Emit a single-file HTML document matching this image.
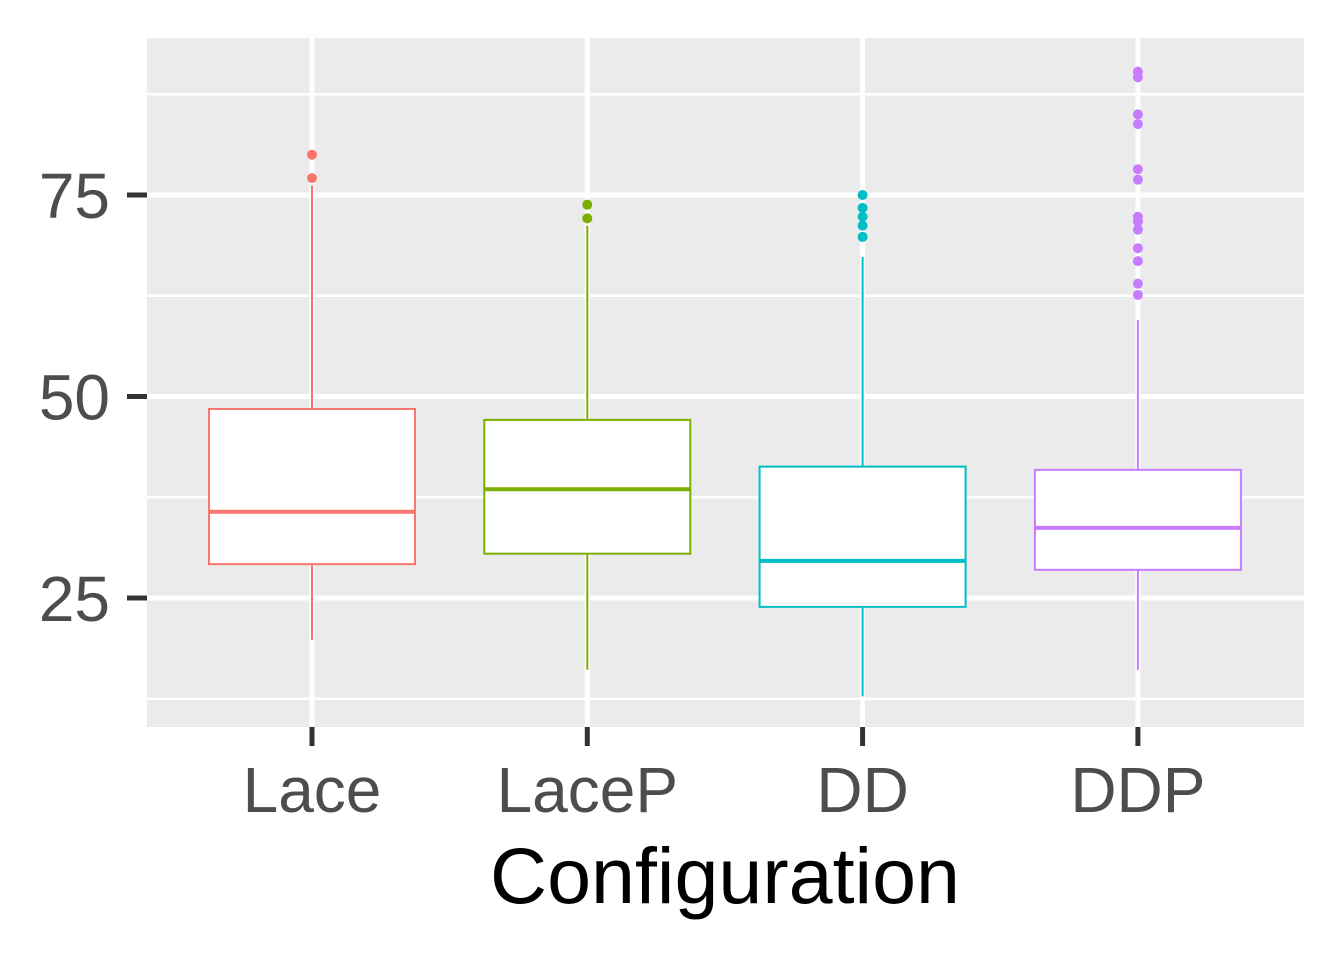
<!DOCTYPE html>
<html><head><meta charset="utf-8"><style>body{margin:0;background:#fff}svg{display:block}</style></head>
<body>
<svg id="chart" width="1344" height="960" font-family="'Liberation Sans', sans-serif">
<rect x="147" y="38" width="1157" height="689" fill="#EBEBEB"/>
<g id="grid"></g><g id="marks"></g><g id="axes"></g>
<text x="725" y="903" font-size="79" text-anchor="middle" fill="#000">Configuration</text>
</svg>
<script>
const categories = ["Lace","LaceP","DD","DDP"];
const colors = ["#F8766D","#7CAE00","#00BFC4","#C77CFF"];
const lowWhisker = [19.8,16.1,12.8,16.1];
const q1 = [29.2,30.5,23.9,28.5];
const median = [35.7,38.5,29.6,33.7];
const q3 = [48.45,47.1,41.3,40.9];
const highWhisker = [76.2,71.2,67.3,59.5];
const outliers = [[80,77.1],[73.8,72.1],[75,73.4,72.3,71.2,69.8],[90.3,89.6,85,83.8,78.2,76.9,72.3,71.7,70.7,68.4,66.8,64,62.6]];
const yTicks = [25,50,75];
const yMinor = [12.5,37.5,62.5,87.5];
const ns="http://www.w3.org/2000/svg";
const y = v => 195 + (75 - v) * 8.06;
const x = i => 312 + i * 275.3;
function mk(tag, attrs, parent){const e=document.createElementNS(ns,tag);for(const k in attrs)e.setAttribute(k,attrs[k]);document.getElementById(parent).appendChild(e);return e;}
yMinor.forEach(v=>{const l=mk('line',{x1:147,x2:1304,y1:y(v),y2:y(v),stroke:'#fff','stroke-width':2.5},'grid');

});
yTicks.forEach(v=>{const l=mk('line',{x1:147,x2:1304,y1:y(v),y2:y(v),stroke:'#fff','stroke-width':5},'grid');


const t=mk('line',{x1:127,x2:147,y1:y(v),y2:y(v),stroke:'#333','stroke-width':5},'axes');


const tx=mk('text',{x:110,y:y(v)+23,'font-size':64,'text-anchor':'end',fill:'#4D4D4D'},'axes');tx.textContent=v;

});
categories.forEach((c,i)=>{const cx=x(i),col=colors[i];
const g=mk('line',{x1:cx,x2:cx,y1:38,y2:727,stroke:'#fff','stroke-width':5},'grid');


const w1=mk('line',{x1:cx,x2:cx,y1:y(highWhisker[i]),y2:y(q3[i]),stroke:col,'stroke-width':2},'marks');


const w2=mk('line',{x1:cx,x2:cx,y1:y(q1[i]),y2:y(lowWhisker[i]),stroke:col,'stroke-width':2},'marks');


const b=mk('rect',{x:cx-103,y:y(q3[i]),width:206,height:y(q1[i])-y(q3[i]),fill:'#fff',stroke:col,'stroke-width':2},'marks');


const m=mk('line',{x1:cx-103,x2:cx+103,y1:y(median[i]),y2:y(median[i]),stroke:col,'stroke-width':4},'marks');


outliers[i].forEach(v=>{const p=mk('circle',{cx:cx,cy:y(v),r:5,fill:col},'marks');

});
const t=mk('line',{x1:cx,x2:cx,y1:727,y2:746,stroke:'#333','stroke-width':5},'axes');


const tx=mk('text',{x:cx,y:812,'font-size':64,'text-anchor':'middle',fill:'#4D4D4D'},'axes');tx.textContent=c;

});
</script>
</body></html>
